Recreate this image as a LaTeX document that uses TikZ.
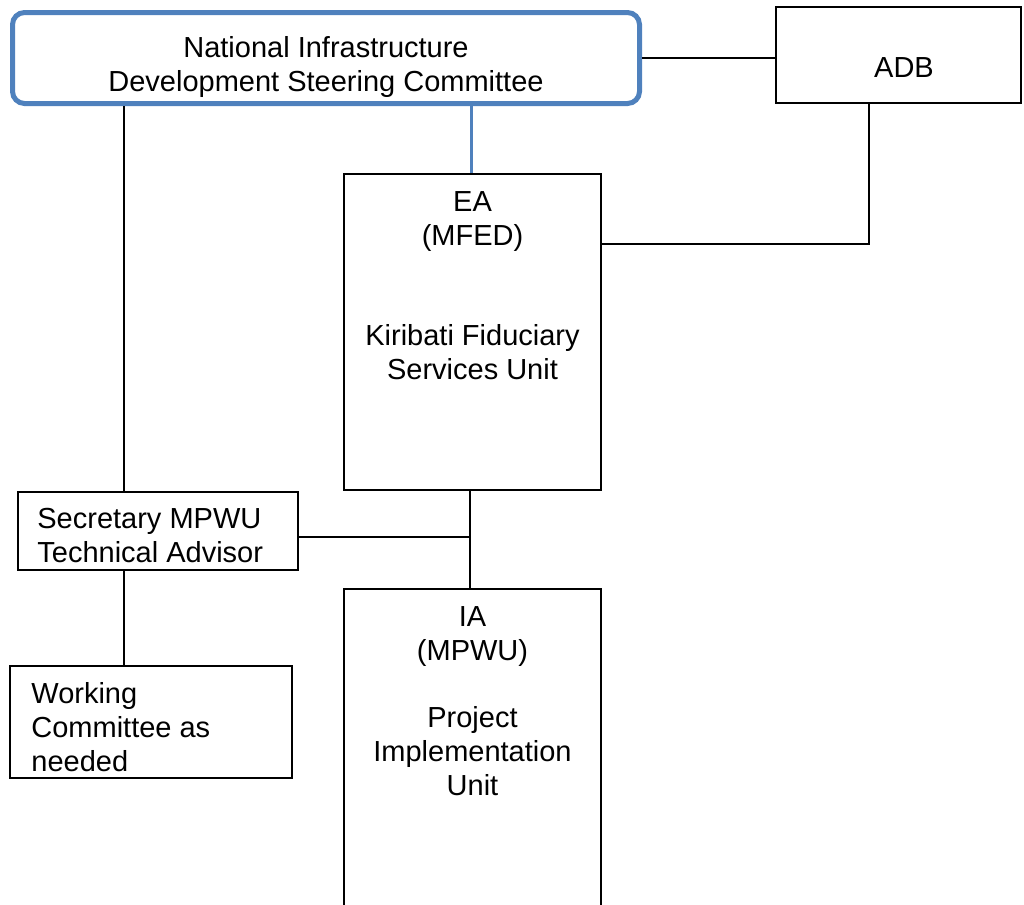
\documentclass[tikz,border=0pt]{standalone}
\usepackage{fontspec}
\setmainfont{Liberation Sans}
\usetikzlibrary{positioning}

\definecolor{steerblue}{HTML}{4F81BD}

\begin{document}
\begin{tikzpicture}[
    box/.style={rectangle, draw, line width=1pt, inner sep=0pt},
    steer/.style={box, draw=steerblue, line width=2.5pt, rounded corners=6pt},
    txt/.style={inner sep=0pt, align=center, font=\fontsize{14.5}{17}\selectfont},
    ltxt/.style={txt, align=left},
    link/.style={line width=1pt},
    bluelink/.style={link, draw=steerblue, line width=1.5pt}
]
  \useasboundingbox (0,0) rectangle (512pt,-452.5pt);

  % boxes
  \node[steer, minimum width=313.5pt, minimum height=45.5pt] (nidsc) at (163pt,-29pt) {};
  \node[box, minimum width=122.5pt, minimum height=48pt, right=66.5pt of nidsc, yshift=1.5pt] (adb) {};
  \node[box, minimum width=128.5pt, minimum height=158pt, below=33.5pt of nidsc, xshift=73.25pt] (ea) {};
  \node[box, minimum width=128.5pt, minimum height=175.5pt, below=48.5pt of ea] (ia) {};
  \node[box, minimum width=140pt, minimum height=39pt, below left=0pt and 22pt of ea.south west] (sec) {};
  \node[box, minimum width=141pt, minimum height=56pt, below=47pt of sec, xshift=-3.5pt] (wc) {};

  % texts
  \node[txt, anchor=north] (nidsclbl) at ([yshift=-13pt]nidsc.north)
    {National Infrastructure\\Development Steering Committee};
  \node[txt, anchor=north] (adblbl) at ([xshift=2.75pt, yshift=-25.5pt]adb.north) {ADB};
  \node[txt, anchor=north] (ealbl) at ([yshift=-9pt]ea.north)
    {EA\\(MFED)\\[33pt]Kiribati Fiduciary\\Services Unit};
  \node[txt, anchor=north] (ialbl) at ([yshift=-9pt]ia.north)
    {IA\\(MPWU)\\[16.5pt]Project\\Implementation\\Unit};
  \node[ltxt, anchor=north west] (seclbl) at ([xshift=10pt, yshift=-8.5pt]sec.north west)
    {Secretary MPWU\\Technical Advisor};
  \node[ltxt, anchor=north west] (wclbl) at ([xshift=11pt, yshift=-8.5pt]wc.north west)
    {Working\\Committee as\\needed};

  % connectors
  \draw[link] (nidsc.east) -- (nidsc.east -| adb.west);
  \draw[bluelink] ([xshift=-0.75pt]nidsc.south -| ea.north) -- ([xshift=-0.75pt]ea.north);
  \draw[link] ([xshift=-14.75pt]adb.south) |- ([yshift=44pt]ea.east);
  \draw[link] ([xshift=-17pt]sec.north) -- ([xshift=-17pt]sec.north |- nidsc.south);
  \draw[link] ([xshift=-13.5pt]wc.north) -- ([xshift=-13.5pt]wc.north |- sec.south);
  \draw[link] ([xshift=-1.5pt]ea.south) -- ([xshift=-1.5pt]ea.south |- ia.north);
  \draw[link] ([yshift=-3pt]sec.east) -- ([yshift=-3pt, xshift=-1.5pt]sec.east -| ea.south);
\end{tikzpicture}
\end{document}
